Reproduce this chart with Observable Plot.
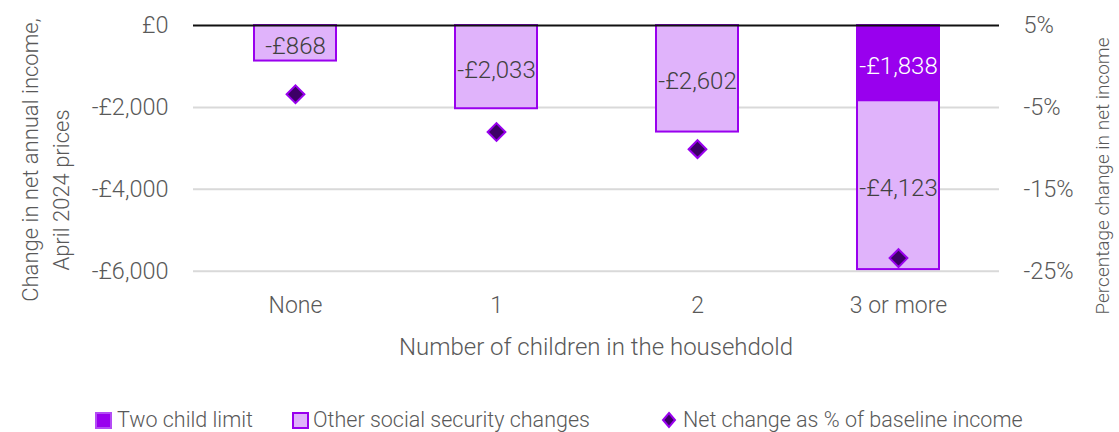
<!DOCTYPE html>
<html>
<head>
<meta charset="utf-8">
<script src="https://cdn.jsdelivr.net/npm/d3@7"></script>
<script src="https://cdn.jsdelivr.net/npm/@observablehq/plot@0.6"></script>
<style>
  html, body { margin: 0; padding: 0; background: #fff; }
  body { width: 1119px; height: 432px; overflow: hidden; font-family: Roboto, sans-serif; font-weight: 300; }
  #legend { position: relative; height: 42px; color: #595959; font-size: 21.5px; }
  .sw, .lt { position: absolute; }
  .sw { top: 22px; width: 17px; height: 17px; box-sizing: border-box; }
  .lt { top: 17px; line-height: 26px; white-space: nowrap; }
</style>
</head>
<body>
<div id="chart"></div>
<div id="legend"></div>
<script>
const categories = ["None", "1", "2", "3 or more"];
const twoChildLimit = [0, 0, 0, -1838];
const otherChanges = [-868, -2033, -2602, -4123];
const netChangePct = [-3.4, -8.0, -10.1, -23.4];
const leftTicks = [0, -2000, -4000, -6000];
const rightTickLabels = ["5%", "-5%", "-15%", "-25%"];
const legendLabels = ["Two child limit", "Other social security changes", "Net change as % of baseline income"];

const purple = "#9900ee";
const lilac = "#e0b3fb";
const darkPurple = "#3d0066";
const font = "Roboto, sans-serif";

const money = v => (v < 0 ? "-£" : "£") + d3.format(",")(Math.abs(v));
// secondary axis: 5% at 0, -25% at -6000
const pctToY = p => (p - 5) * 200;

const rows = categories.map((c, i) => ({
  cat: c,
  tc: twoChildLimit[i],
  other: otherChanges[i],
  pct: netChangePct[i]
}));

const chart = Plot.plot({
  width: 1119,
  height: 390,
  marginLeft: 193,
  marginRight: 120,
  marginTop: 25,
  marginBottom: 119.3,
  style: { fontFamily: font, fontSize: "23px", color: "#595959", fontWeight: 300, background: "transparent" },
  x: { type: "band", domain: categories, paddingInner: 0.593, paddingOuter: 0.2965 },
  y: { domain: [-6000, 0] },
  marks: [
    Plot.ruleY(leftTicks.filter(v => v !== 0), { stroke: "#d9d9d9", strokeWidth: 2 }),
    Plot.barY(rows.filter(d => d.tc !== 0), { x: "cat", y1: 0, y2: "tc", fill: purple, stroke: purple, strokeWidth: 2, inset: 0 }),
    Plot.barY(rows, { x: "cat", y1: "tc", y2: d => d.tc + d.other, fill: lilac, stroke: purple, strokeWidth: 2, inset: 0 }),
    Plot.text(rows.filter(d => d.tc !== 0), { x: "cat", y: d => d.tc / 2, text: d => money(d.tc), fill: "white", fontSize: 24, fontWeight: 300, dy: 3 }),
    Plot.text(rows, { x: "cat", y: d => d.tc + d.other / 2, text: d => money(d.other), fill: "#404040", fontSize: 24, fontWeight: 300, dy: 3 }),
    Plot.dot(rows, { x: "cat", y: d => pctToY(d.pct), symbol: "diamond2", r: 8, fill: darkPurple, stroke: purple, strokeWidth: 2 }),
    Plot.ruleY([0], { stroke: "#111", strokeWidth: 2 }),
    Plot.axisY({ anchor: "left", ticks: leftTicks, tickFormat: money, tickSize: 0, tickPadding: 25, label: null, fontSize: 23.5 }),
    Plot.axisY({ anchor: "right", ticks: leftTicks, tickFormat: v => rightTickLabels[leftTicks.indexOf(v)], tickSize: 0, tickPadding: 24, label: null, fontSize: 23.5 }),
    Plot.axisX({ tickSize: 0, tickPadding: 25, label: null, fontSize: 23 })
  ]
});

const svg = d3.select(chart);
const addTitle = (txt, x, y, rot, size) => svg.append("text")
  .attr("transform", `translate(${x},${y}) rotate(${rot})`)
  .attr("text-anchor", "middle")
  .attr("dominant-baseline", "central")
  .attr("fill", "#595959")
  .attr("font-family", font)
  .attr("font-weight", 300)
  .attr("font-size", size)
  .text(txt);
addTitle("Change in net annual income,", 30, 160, -90, 22);
addTitle("April 2024 prices", 61, 190, -90, 22);
addTitle("Percentage change in net income", 1102, 176, -90, 19);
addTitle("Number of children in the househdold", 596, 347, 0, 24);

document.getElementById("chart").appendChild(chart);

// legend
const legend = d3.select("#legend");
legend.append("span").attr("class", "sw").style("left", "95px")
  .style("background", purple).style("border", "2px solid #b44cf5");
legend.append("span").attr("class", "sw").style("left", "292px")
  .style("background", lilac).style("border", "2px solid " + purple);
legend.append("svg").style("position", "absolute").style("left", "660px").style("top", "20px")
  .attr("width", 18).attr("height", 20)
  .append("path").attr("d", "M9,3 L15,10 L9,17 L3,10 Z")
  .attr("fill", darkPurple).attr("stroke", purple).attr("stroke-width", 2);
[117, 313, 683].forEach((x, i) => {
  legend.append("span").attr("class", "lt").style("left", x + "px").text(legendLabels[i]);
});
</script>
</body>
</html>
